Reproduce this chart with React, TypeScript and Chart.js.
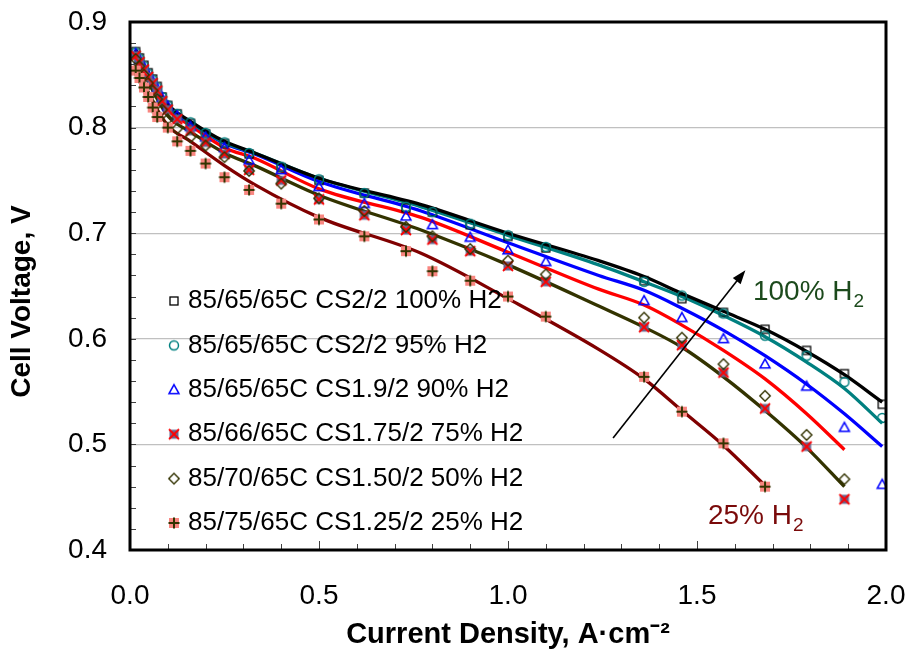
import React, { useEffect, useRef } from 'react';
import { Chart, registerables } from 'chart.js';

Chart.register(...registerables);

// ---------- data ----------
const CURRENT = [
  0.015, 0.025, 0.037, 0.048, 0.06, 0.072, 0.085, 0.1, 0.125, 0.16, 0.2, 0.25, 0.315,
  0.4, 0.5, 0.62, 0.73, 0.8, 0.9, 1.0, 1.1, 1.36, 1.46, 1.57, 1.68, 1.79, 1.89, 1.99,
];
const CURRENT_25 = [
  0.015, 0.025, 0.037, 0.048, 0.06, 0.072, 0.1, 0.125, 0.16, 0.2, 0.25, 0.315,
  0.4, 0.5, 0.62, 0.73, 0.8, 0.9, 1.0, 1.1, 1.36, 1.46, 1.57, 1.68,
];

const V_100 = [
  0.872, 0.866, 0.859, 0.852, 0.846, 0.839, 0.829, 0.821, 0.813, 0.804, 0.794, 0.785, 0.775,
  0.762, 0.750, 0.738, 0.724, 0.720, 0.708, 0.697, 0.686, 0.655, 0.638, 0.625, 0.609, 0.589, 0.567, 0.538,
];
const V_95 = [
  0.871, 0.865, 0.858, 0.851, 0.845, 0.838, 0.829, 0.821, 0.813, 0.805, 0.795, 0.786, 0.776,
  0.763, 0.751, 0.738, 0.725, 0.720, 0.709, 0.698, 0.687, 0.654, 0.641, 0.624, 0.603, 0.584, 0.559, 0.525,
];
const V_90 = [
  0.870, 0.864, 0.857, 0.850, 0.844, 0.837, 0.828, 0.820, 0.811, 0.801, 0.791, 0.781, 0.769,
  0.760, 0.744, 0.728, 0.716, 0.708, 0.696, 0.684, 0.673, 0.636, 0.620, 0.600, 0.576, 0.555, 0.516, 0.462,
];
const V_75 = [
  0.868, 0.862, 0.855, 0.848, 0.842, 0.835, 0.825, 0.817, 0.808, 0.797, 0.786, 0.775, 0.760,
  0.750, 0.732, 0.717, 0.703, 0.694, 0.683, 0.669, 0.654, 0.611, 0.594, 0.568, 0.534, 0.498, 0.448,
];
const V_50 = [
  0.865, 0.858, 0.850, 0.842, 0.835, 0.827, 0.817, 0.808, 0.799, 0.791, 0.783, 0.772, 0.759,
  0.747, 0.733, 0.721, 0.706, 0.697, 0.685, 0.674, 0.661, 0.620, 0.601, 0.576, 0.546, 0.509, 0.467,
];
const V_25 = [
  0.854, 0.847, 0.838, 0.829, 0.819, 0.810, 0.800, 0.787, 0.778, 0.766, 0.753, 0.741,
  0.728, 0.713, 0.697, 0.683, 0.664, 0.655, 0.640, 0.621, 0.564, 0.531, 0.501, 0.460,
];

// model fit curves
const FIT_CURRENT = [
  0.015, 0.05, 0.1, 0.16, 0.25, 0.33, 0.5, 0.77, 1.0, 1.24, 1.36, 1.46, 1.57, 1.68, 1.79, 1.89, 1.99,
];
const FIT_100 = [0.874, 0.851, 0.822, 0.806, 0.787, 0.776, 0.752, 0.727, 0.700, 0.674, 0.659, 0.643, 0.626, 0.609, 0.588, 0.566, 0.540];
const FIT_95 = [0.873, 0.850, 0.821, 0.805, 0.786, 0.776, 0.752, 0.725, 0.698, 0.670, 0.654, 0.640, 0.622, 0.602, 0.578, 0.553, 0.520];
const FIT_90 = [0.872, 0.849, 0.820, 0.805, 0.785, 0.775, 0.749, 0.721, 0.691, 0.660, 0.646, 0.629, 0.608, 0.584, 0.557, 0.529, 0.498];
const FIT_75 = [0.871, 0.847, 0.817, 0.802, 0.781, 0.771, 0.742, 0.715, 0.682, 0.647, 0.632, 0.613, 0.589, 0.562, 0.529, 0.495];
const FIT_50 = [0.868, 0.842, 0.811, 0.796, 0.776, 0.764, 0.736, 0.703, 0.670, 0.631, 0.611, 0.592, 0.564, 0.532, 0.497, 0.460];
const FIT_25 = [0.862, 0.832, 0.802, 0.787, 0.764, 0.746, 0.715, 0.681, 0.638, 0.590, 0.562, 0.532, 0.499, 0.461];

const LEGEND_LABELS = [
  '85/65/65C CS2/2 100% H2',
  '85/65/65C CS2/2 95% H2',
  '85/65/65C CS1.9/2 90% H2',
  '85/66/65C CS1.75/2 75% H2',
  '85/70/65C CS1.50/2 50% H2',
  '85/75/65C CS1.25/2 25% H2',
];

const X_TITLE = 'Current Density, A·cm⁻²';
const Y_TITLE = 'Cell Voltage, V';
const NOTE_HIGH = '100% H';
const NOTE_LOW = '25% H';
const NOTE_SUB = '2';

const FONT = '"Liberation Sans", Arial, sans-serif';

type MarkerKind = 'square' | 'circle' | 'triangle' | 'xbox' | 'diamond' | 'plusbox';

function makeMarker(kind: MarkerKind): HTMLCanvasElement {
  const c = document.createElement('canvas');
  c.width = 16;
  c.height = 16;
  const g = c.getContext('2d')!;
  g.lineJoin = 'miter';
  switch (kind) {
    case 'square':
      g.strokeStyle = '#000000';
      g.lineWidth = 1.3;
      g.strokeRect(4, 4, 8, 8);
      break;
    case 'circle':
      g.strokeStyle = '#008080';
      g.lineWidth = 1.5;
      g.beginPath();
      g.arc(8, 8, 4.5, 0, Math.PI * 2);
      g.stroke();
      break;
    case 'triangle':
      g.strokeStyle = '#0000ff';
      g.lineWidth = 1.5;
      g.beginPath();
      g.moveTo(8, 2.8);
      g.lineTo(13, 11.8);
      g.lineTo(3, 11.8);
      g.closePath();
      g.stroke();
      break;
    case 'xbox':
      g.fillStyle = '#66668f';
      g.fillRect(3.5, 3.5, 9, 9);
      g.strokeStyle = '#ff0000';
      g.lineWidth = 1.8;
      g.beginPath();
      g.moveTo(3, 3);
      g.lineTo(13, 13);
      g.moveTo(13, 3);
      g.lineTo(3, 13);
      g.stroke();
      break;
    case 'diamond':
      g.strokeStyle = '#333300';
      g.lineWidth = 1.4;
      g.beginPath();
      g.moveTo(8, 2.8);
      g.lineTo(13.2, 8);
      g.lineTo(8, 13.2);
      g.lineTo(2.8, 8);
      g.closePath();
      g.stroke();
      break;
    case 'plusbox':
      g.fillStyle = '#f88680';
      g.fillRect(3, 3, 10, 10);
      g.strokeStyle = '#333300';
      g.lineWidth = 2;
      g.beginPath();
      g.moveTo(8, 2.5);
      g.lineTo(8, 13.5);
      g.moveTo(2.5, 8);
      g.lineTo(13.5, 8);
      g.stroke();
      break;
  }
  return c;
}

export default function App() {
  const ref = useRef<HTMLCanvasElement>(null);

  useEffect(() => {
    const canvas = ref.current;
    if (!canvas) return;

    const seriesDefs = [
      { label: LEGEND_LABELS[0], x: CURRENT, y: V_100, marker: makeMarker('square') },
      { label: LEGEND_LABELS[1], x: CURRENT, y: V_95, marker: makeMarker('circle') },
      { label: LEGEND_LABELS[2], x: CURRENT, y: V_90, marker: makeMarker('triangle') },
      { label: LEGEND_LABELS[3], x: CURRENT, y: V_75, marker: makeMarker('xbox') },
      { label: LEGEND_LABELS[4], x: CURRENT, y: V_50, marker: makeMarker('diamond') },
      { label: LEGEND_LABELS[5], x: CURRENT_25, y: V_25, marker: makeMarker('plusbox') },
    ];
    const fitDefs = [
      { color: '#000000', y: FIT_100 },
      { color: '#008080', y: FIT_95 },
      { color: '#0000ff', y: FIT_90 },
      { color: '#ff0000', y: FIT_75 },
      { color: '#333300', y: FIT_50 },
      { color: '#800000', y: FIT_25 },
    ];

    const markerSets = seriesDefs.map((s, i) => ({
      label: s.label,
      data: s.y.map((v, k) => ({ x: s.x[k], y: v })),
      showLine: false,
      pointStyle: s.marker as any,
      pointRadius: 5,
      pointHoverRadius: 5,
      order: 5 - i,
    }));
    const fitSets = fitDefs.map((f, i) => ({
      label: 'fit' + i,
      data: f.y.map((v, k) => ({ x: FIT_CURRENT[k], y: v })),
      showLine: true,
      borderColor: f.color,
      backgroundColor: f.color,
      borderWidth: 3.3,
      pointRadius: 0,
      pointHoverRadius: 0,
      cubicInterpolationMode: 'monotone' as const,
      fill: false,
      order: 20 + i,
    }));

    const decor = {
      id: 'decor',
      afterDatasetsDraw(chart: any) {
        const { ctx, chartArea: a, scales } = chart;
        const xs = scales.x;
        const ys = scales.y;
        ctx.save();
        // inner minor ticks
        ctx.strokeStyle = '#404040';
        ctx.lineWidth = 1;
        for (let k = 1; k < 25; k++) {
          const py = Math.round(ys.getPixelForValue(0.4 + k * 0.02)) + 0.5;
          ctx.beginPath();
          ctx.moveTo(a.left, py);
          ctx.lineTo(a.left + 6, py);
          ctx.stroke();
        }
        for (let k = 1; k < 20; k++) {
          const px = Math.round(xs.getPixelForValue(k * 0.1)) + 0.5;
          const len = k % 5 === 0 ? 9 : 6;
          ctx.beginPath();
          ctx.moveTo(px, a.bottom);
          ctx.lineTo(px, a.bottom - len);
          ctx.stroke();
        }
        // frame
        ctx.strokeStyle = '#000000';
        ctx.lineWidth = 3;
        ctx.strokeRect(a.left, a.top, a.right - a.left, a.bottom - a.top);
        ctx.restore();
      },
      afterDraw(chart: any) {
        const { ctx, chartArea: a, scales } = chart;
        const xs = scales.x;
        const ys = scales.y;
        ctx.save();
        // legend inside the plot
        ctx.font = `26px ${FONT}`;
        ctx.textBaseline = 'middle';
        ctx.textAlign = 'left';
        ctx.fillStyle = '#000000';
        seriesDefs.forEach((s, i) => {
          const cy = a.top + 279 + i * 44.4;
          const mx = a.left + 44;
          ctx.drawImage(s.marker, mx - 8, cy - 8);
          ctx.fillText(s.label, a.left + 58, cy);
        });

        // arrow
        const x0 = xs.getPixelForValue(1.278);
        const y0 = ys.getPixelForValue(0.506);
        const x1 = xs.getPixelForValue(1.628);
        const y1 = ys.getPixelForValue(0.665);
        const ang = Math.atan2(y1 - y0, x1 - x0);
        ctx.strokeStyle = '#000000';
        ctx.fillStyle = '#000000';
        ctx.lineWidth = 1.6;
        ctx.beginPath();
        ctx.moveTo(x0, y0);
        ctx.lineTo(x1 - 10 * Math.cos(ang), y1 - 10 * Math.sin(ang));
        ctx.stroke();
        ctx.beginPath();
        ctx.moveTo(x1, y1);
        ctx.lineTo(x1 - 14 * Math.cos(ang) + 5 * Math.sin(ang), y1 - 14 * Math.sin(ang) - 5 * Math.cos(ang));
        ctx.lineTo(x1 - 14 * Math.cos(ang) - 5 * Math.sin(ang), y1 - 14 * Math.sin(ang) + 5 * Math.cos(ang));
        ctx.closePath();
        ctx.fill();

        // annotations with subscript
        const drawNote = (text: string, vx: number, vy: number, color: string) => {
          const px = xs.getPixelForValue(vx);
          const py = ys.getPixelForValue(vy);
          ctx.fillStyle = color;
          ctx.textBaseline = 'alphabetic';
          ctx.font = `28px ${FONT}`;
          ctx.fillText(text, px, py);
          const w = ctx.measureText(text).width;
          ctx.font = `19px ${FONT}`;
          ctx.fillText(NOTE_SUB, px + w + 1, py + 7);
        };
        drawNote(NOTE_HIGH, 1.648, 0.6365, '#1c4a1c');
        drawNote(NOTE_LOW, 1.529, 0.425, '#7a0a0a');
        ctx.restore();
      },
    };

    const chart = new Chart(canvas, {
      type: 'scatter',
      data: { datasets: [...markerSets, ...fitSets] as any },
      options: {
        animation: false,
        responsive: false,
        devicePixelRatio: 1,
        layout: { padding: { top: 22, right: 22, left: 0, bottom: 0 } },
        plugins: {
          legend: { display: false },
          tooltip: { enabled: false },
        },
        scales: {
          x: {
            type: 'linear',
            min: 0,
            max: 2,
            afterFit: (s: any) => {
              s.height = 105;
              s.paddingLeft = 0;
              s.paddingRight = 0;
            },
            ticks: {
              stepSize: 0.5,
              padding: 29,
              color: '#000000',
              font: { family: FONT, size: 28 },
              callback: (v: any) => Number(v).toFixed(1),
            },
            grid: { display: false, drawTicks: false },
            border: { display: false },
            title: {
              display: true,
              text: X_TITLE,
              color: '#000000',
              font: { family: FONT, size: 29, weight: 'bold' },
              padding: { top: 0, bottom: 3 },
            },
          },
          y: {
            type: 'linear',
            min: 0.4,
            max: 0.9,
            afterFit: (s: any) => {
              s.width = 130;
              s.paddingTop = 0;
              s.paddingBottom = 0;
            },
            ticks: {
              stepSize: 0.1,
              padding: 23,
              color: '#000000',
              font: { family: FONT, size: 28 },
              callback: (v: any) => Number(v).toFixed(1),
            },
            grid: { color: '#c0c0c0', lineWidth: 1.3, drawTicks: false },
            border: { display: false },
            title: {
              display: true,
              text: Y_TITLE + '    ',
              color: '#000000',
              font: { family: FONT, size: 28, weight: 'bold' },
              padding: { top: 5, bottom: 0 },
            },
          },
        },
      },
      plugins: [decor],
    });

    return () => {
      chart.destroy();
    };
  }, []);

  return (
    <div style={{ position: 'absolute', left: 0, top: 0, width: 908, height: 655, background: '#ffffff' }}>
      <canvas ref={ref} width={908} height={655} style={{ display: 'block' }} />
    </div>
  );
}
